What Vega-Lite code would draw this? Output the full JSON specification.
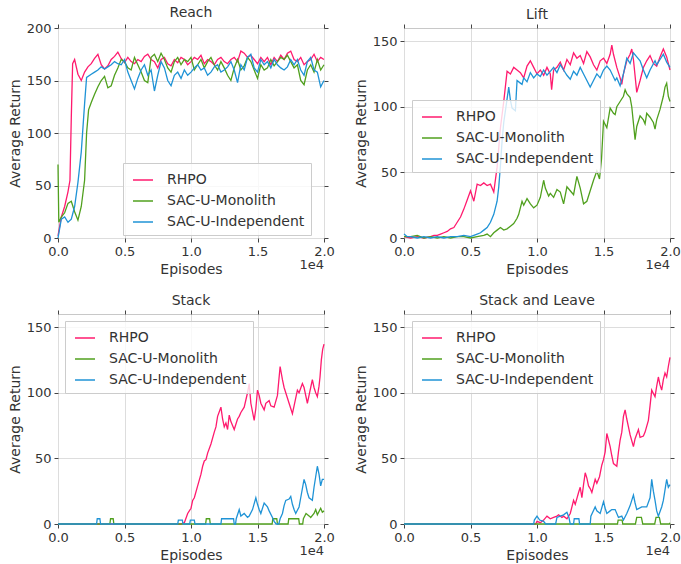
{
"$schema": "https://vega.github.io/schema/vega-lite/v6.json",
"background": "white",
"padding": {"left": 7, "top": 5, "right": 3, "bottom": 2},
"config": {
  "font": "DejaVu Sans",
  "view": {"stroke": "#c8c8c8", "strokeWidth": 1},
  "axis": {"grid": true, "gridColor": "#dddddd", "gridWidth": 1, "domain": false, "tickColor": "#444444", "tickSize": 4, "labelPadding": 3, "labelFontSize": 13, "titleFontSize": 14, "labelColor": "#333333", "titleColor": "#333333", "titleFontWeight": "normal", "titlePadding": 4, "labelFlush": false},
  "title": {"fontSize": 14, "fontWeight": "normal", "color": "#333333", "offset": 2},
  "legend": {"orient": "none", "title": null, "labelFontSize": 14, "labelColor": "#333333", "symbolType": "stroke", "symbolSize": 400, "symbolStrokeWidth": 1.5, "fillColor": "rgba(255,255,255,0.8)", "strokeColor": "#cccccc", "padding": 6, "rowPadding": 3, "labelOffset": 13, "symbolOffset": 3}
},
"datasets": {
"reach": [
{"s":"RHPO","x":0,"y":2},{"s":"RHPO","x":250,"y":20},{"s":"RHPO","x":500,"y":30},{"s":"RHPO","x":750,"y":44},{"s":"RHPO","x":900,"y":55},{"s":"RHPO","x":1000,"y":115},{"s":"RHPO","x":1100,"y":166},{"s":"RHPO","x":1250,"y":170},{"s":"RHPO","x":1500,"y":156},{"s":"RHPO","x":1750,"y":150},{"s":"RHPO","x":2000,"y":158},{"s":"RHPO","x":2250,"y":163},{"s":"RHPO","x":2500,"y":166},{"s":"RHPO","x":2750,"y":171},{"s":"RHPO","x":3000,"y":175},{"s":"RHPO","x":3250,"y":165},{"s":"RHPO","x":3500,"y":161},{"s":"RHPO","x":3750,"y":164},{"s":"RHPO","x":4000,"y":170},{"s":"RHPO","x":4250,"y":173},{"s":"RHPO","x":4500,"y":177},{"s":"RHPO","x":4750,"y":171},{"s":"RHPO","x":5000,"y":167},{"s":"RHPO","x":5250,"y":172},{"s":"RHPO","x":5500,"y":168},{"s":"RHPO","x":5750,"y":166},{"s":"RHPO","x":6000,"y":170},{"s":"RHPO","x":6250,"y":168},{"s":"RHPO","x":6500,"y":173},{"s":"RHPO","x":6750,"y":175},{"s":"RHPO","x":7000,"y":170},{"s":"RHPO","x":7250,"y":168},{"s":"RHPO","x":7500,"y":162},{"s":"RHPO","x":7750,"y":170},{"s":"RHPO","x":8000,"y":172},{"s":"RHPO","x":8250,"y":166},{"s":"RHPO","x":8500,"y":164},{"s":"RHPO","x":8750,"y":170},{"s":"RHPO","x":9000,"y":167},{"s":"RHPO","x":9250,"y":172},{"s":"RHPO","x":9500,"y":170},{"s":"RHPO","x":9750,"y":165},{"s":"RHPO","x":10000,"y":168},{"s":"RHPO","x":10250,"y":172},{"s":"RHPO","x":10500,"y":170},{"s":"RHPO","x":10750,"y":174},{"s":"RHPO","x":11000,"y":166},{"s":"RHPO","x":11250,"y":170},{"s":"RHPO","x":11500,"y":168},{"s":"RHPO","x":11750,"y":165},{"s":"RHPO","x":12000,"y":170},{"s":"RHPO","x":12250,"y":172},{"s":"RHPO","x":12500,"y":168},{"s":"RHPO","x":12750,"y":166},{"s":"RHPO","x":13000,"y":170},{"s":"RHPO","x":13250,"y":172},{"s":"RHPO","x":13500,"y":168},{"s":"RHPO","x":13750,"y":178},{"s":"RHPO","x":14000,"y":176},{"s":"RHPO","x":14250,"y":172},{"s":"RHPO","x":14500,"y":174},{"s":"RHPO","x":14750,"y":170},{"s":"RHPO","x":15000,"y":166},{"s":"RHPO","x":15250,"y":172},{"s":"RHPO","x":15500,"y":168},{"s":"RHPO","x":15750,"y":172},{"s":"RHPO","x":16000,"y":165},{"s":"RHPO","x":16250,"y":172},{"s":"RHPO","x":16500,"y":168},{"s":"RHPO","x":16750,"y":174},{"s":"RHPO","x":17000,"y":170},{"s":"RHPO","x":17250,"y":176},{"s":"RHPO","x":17500,"y":178},{"s":"RHPO","x":17750,"y":170},{"s":"RHPO","x":18000,"y":168},{"s":"RHPO","x":18250,"y":172},{"s":"RHPO","x":18500,"y":165},{"s":"RHPO","x":18750,"y":168},{"s":"RHPO","x":19000,"y":170},{"s":"RHPO","x":19250,"y":175},{"s":"RHPO","x":19500,"y":168},{"s":"RHPO","x":19750,"y":172},{"s":"RHPO","x":20000,"y":170},
{"s":"SAC-U-Monolith","x":0,"y":70},{"s":"SAC-U-Monolith","x":60,"y":15},{"s":"SAC-U-Monolith","x":250,"y":20},{"s":"SAC-U-Monolith","x":500,"y":24},{"s":"SAC-U-Monolith","x":750,"y":33},{"s":"SAC-U-Monolith","x":1000,"y":35},{"s":"SAC-U-Monolith","x":1250,"y":25},{"s":"SAC-U-Monolith","x":1500,"y":17},{"s":"SAC-U-Monolith","x":1750,"y":30},{"s":"SAC-U-Monolith","x":2000,"y":55},{"s":"SAC-U-Monolith","x":2150,"y":100},{"s":"SAC-U-Monolith","x":2300,"y":122},{"s":"SAC-U-Monolith","x":2500,"y":129},{"s":"SAC-U-Monolith","x":2750,"y":137},{"s":"SAC-U-Monolith","x":3000,"y":144},{"s":"SAC-U-Monolith","x":3250,"y":150},{"s":"SAC-U-Monolith","x":3500,"y":154},{"s":"SAC-U-Monolith","x":3750,"y":143},{"s":"SAC-U-Monolith","x":4000,"y":145},{"s":"SAC-U-Monolith","x":4250,"y":155},{"s":"SAC-U-Monolith","x":4500,"y":162},{"s":"SAC-U-Monolith","x":4750,"y":170},{"s":"SAC-U-Monolith","x":5000,"y":168},{"s":"SAC-U-Monolith","x":5250,"y":162},{"s":"SAC-U-Monolith","x":5500,"y":160},{"s":"SAC-U-Monolith","x":5750,"y":172},{"s":"SAC-U-Monolith","x":6000,"y":165},{"s":"SAC-U-Monolith","x":6250,"y":158},{"s":"SAC-U-Monolith","x":6500,"y":150},{"s":"SAC-U-Monolith","x":6750,"y":148},{"s":"SAC-U-Monolith","x":7000,"y":172},{"s":"SAC-U-Monolith","x":7250,"y":175},{"s":"SAC-U-Monolith","x":7500,"y":168},{"s":"SAC-U-Monolith","x":7750,"y":176},{"s":"SAC-U-Monolith","x":8000,"y":170},{"s":"SAC-U-Monolith","x":8250,"y":162},{"s":"SAC-U-Monolith","x":8500,"y":158},{"s":"SAC-U-Monolith","x":8750,"y":168},{"s":"SAC-U-Monolith","x":9000,"y":172},{"s":"SAC-U-Monolith","x":9250,"y":165},{"s":"SAC-U-Monolith","x":9500,"y":170},{"s":"SAC-U-Monolith","x":9750,"y":168},{"s":"SAC-U-Monolith","x":10000,"y":172},{"s":"SAC-U-Monolith","x":10250,"y":160},{"s":"SAC-U-Monolith","x":10500,"y":165},{"s":"SAC-U-Monolith","x":10750,"y":170},{"s":"SAC-U-Monolith","x":11000,"y":162},{"s":"SAC-U-Monolith","x":11250,"y":168},{"s":"SAC-U-Monolith","x":11500,"y":172},{"s":"SAC-U-Monolith","x":11750,"y":165},{"s":"SAC-U-Monolith","x":12000,"y":160},{"s":"SAC-U-Monolith","x":12250,"y":168},{"s":"SAC-U-Monolith","x":12500,"y":162},{"s":"SAC-U-Monolith","x":12750,"y":155},{"s":"SAC-U-Monolith","x":13000,"y":150},{"s":"SAC-U-Monolith","x":13250,"y":162},{"s":"SAC-U-Monolith","x":13500,"y":170},{"s":"SAC-U-Monolith","x":13750,"y":160},{"s":"SAC-U-Monolith","x":14000,"y":164},{"s":"SAC-U-Monolith","x":14250,"y":172},{"s":"SAC-U-Monolith","x":14500,"y":168},{"s":"SAC-U-Monolith","x":14750,"y":160},{"s":"SAC-U-Monolith","x":15000,"y":152},{"s":"SAC-U-Monolith","x":15250,"y":165},{"s":"SAC-U-Monolith","x":15500,"y":160},{"s":"SAC-U-Monolith","x":15750,"y":162},{"s":"SAC-U-Monolith","x":16000,"y":170},{"s":"SAC-U-Monolith","x":16250,"y":164},{"s":"SAC-U-Monolith","x":16500,"y":168},{"s":"SAC-U-Monolith","x":16750,"y":172},{"s":"SAC-U-Monolith","x":17000,"y":170},{"s":"SAC-U-Monolith","x":17250,"y":174},{"s":"SAC-U-Monolith","x":17500,"y":168},{"s":"SAC-U-Monolith","x":17750,"y":162},{"s":"SAC-U-Monolith","x":18000,"y":165},{"s":"SAC-U-Monolith","x":18250,"y":150},{"s":"SAC-U-Monolith","x":18500,"y":146},{"s":"SAC-U-Monolith","x":18750,"y":160},{"s":"SAC-U-Monolith","x":19000,"y":165},{"s":"SAC-U-Monolith","x":19250,"y":158},{"s":"SAC-U-Monolith","x":19500,"y":170},{"s":"SAC-U-Monolith","x":19750,"y":160},{"s":"SAC-U-Monolith","x":20000,"y":165},
{"s":"SAC-U-Independent","x":0,"y":0},{"s":"SAC-U-Independent","x":250,"y":18},{"s":"SAC-U-Independent","x":500,"y":20},{"s":"SAC-U-Independent","x":750,"y":15},{"s":"SAC-U-Independent","x":1000,"y":18},{"s":"SAC-U-Independent","x":1250,"y":30},{"s":"SAC-U-Independent","x":1500,"y":53},{"s":"SAC-U-Independent","x":1750,"y":82},{"s":"SAC-U-Independent","x":2000,"y":128},{"s":"SAC-U-Independent","x":2150,"y":153},{"s":"SAC-U-Independent","x":2500,"y":156},{"s":"SAC-U-Independent","x":2750,"y":158},{"s":"SAC-U-Independent","x":3000,"y":160},{"s":"SAC-U-Independent","x":3250,"y":163},{"s":"SAC-U-Independent","x":3500,"y":161},{"s":"SAC-U-Independent","x":3750,"y":163},{"s":"SAC-U-Independent","x":4000,"y":165},{"s":"SAC-U-Independent","x":4250,"y":168},{"s":"SAC-U-Independent","x":4500,"y":166},{"s":"SAC-U-Independent","x":4750,"y":165},{"s":"SAC-U-Independent","x":5000,"y":170},{"s":"SAC-U-Independent","x":5250,"y":158},{"s":"SAC-U-Independent","x":5500,"y":150},{"s":"SAC-U-Independent","x":5750,"y":142},{"s":"SAC-U-Independent","x":6000,"y":152},{"s":"SAC-U-Independent","x":6250,"y":160},{"s":"SAC-U-Independent","x":6500,"y":165},{"s":"SAC-U-Independent","x":6750,"y":155},{"s":"SAC-U-Independent","x":7000,"y":160},{"s":"SAC-U-Independent","x":7250,"y":140},{"s":"SAC-U-Independent","x":7500,"y":155},{"s":"SAC-U-Independent","x":7750,"y":168},{"s":"SAC-U-Independent","x":8000,"y":162},{"s":"SAC-U-Independent","x":8250,"y":150},{"s":"SAC-U-Independent","x":8500,"y":145},{"s":"SAC-U-Independent","x":8750,"y":155},{"s":"SAC-U-Independent","x":9000,"y":158},{"s":"SAC-U-Independent","x":9250,"y":152},{"s":"SAC-U-Independent","x":9500,"y":160},{"s":"SAC-U-Independent","x":9750,"y":155},{"s":"SAC-U-Independent","x":10000,"y":158},{"s":"SAC-U-Independent","x":10250,"y":162},{"s":"SAC-U-Independent","x":10500,"y":165},{"s":"SAC-U-Independent","x":10750,"y":160},{"s":"SAC-U-Independent","x":11000,"y":162},{"s":"SAC-U-Independent","x":11250,"y":155},{"s":"SAC-U-Independent","x":11500,"y":158},{"s":"SAC-U-Independent","x":11750,"y":163},{"s":"SAC-U-Independent","x":12000,"y":165},{"s":"SAC-U-Independent","x":12250,"y":158},{"s":"SAC-U-Independent","x":12500,"y":160},{"s":"SAC-U-Independent","x":12750,"y":163},{"s":"SAC-U-Independent","x":13000,"y":168},{"s":"SAC-U-Independent","x":13250,"y":160},{"s":"SAC-U-Independent","x":13500,"y":148},{"s":"SAC-U-Independent","x":13750,"y":165},{"s":"SAC-U-Independent","x":14000,"y":160},{"s":"SAC-U-Independent","x":14250,"y":172},{"s":"SAC-U-Independent","x":14500,"y":175},{"s":"SAC-U-Independent","x":14750,"y":162},{"s":"SAC-U-Independent","x":15000,"y":158},{"s":"SAC-U-Independent","x":15250,"y":170},{"s":"SAC-U-Independent","x":15500,"y":165},{"s":"SAC-U-Independent","x":15750,"y":168},{"s":"SAC-U-Independent","x":16000,"y":162},{"s":"SAC-U-Independent","x":16250,"y":170},{"s":"SAC-U-Independent","x":16500,"y":165},{"s":"SAC-U-Independent","x":16750,"y":162},{"s":"SAC-U-Independent","x":17000,"y":160},{"s":"SAC-U-Independent","x":17250,"y":163},{"s":"SAC-U-Independent","x":17500,"y":170},{"s":"SAC-U-Independent","x":17750,"y":165},{"s":"SAC-U-Independent","x":18000,"y":170},{"s":"SAC-U-Independent","x":18250,"y":160},{"s":"SAC-U-Independent","x":18500,"y":155},{"s":"SAC-U-Independent","x":18750,"y":168},{"s":"SAC-U-Independent","x":19000,"y":172},{"s":"SAC-U-Independent","x":19250,"y":160},{"s":"SAC-U-Independent","x":19500,"y":158},{"s":"SAC-U-Independent","x":19750,"y":144},{"s":"SAC-U-Independent","x":20000,"y":150}
],
"lift": [
{"s":"RHPO","x":0,"y":1},{"s":"RHPO","x":500,"y":0},{"s":"RHPO","x":1000,"y":1},{"s":"RHPO","x":1500,"y":0},{"s":"RHPO","x":2000,"y":1},{"s":"RHPO","x":2250,"y":2},{"s":"RHPO","x":2500,"y":2},{"s":"RHPO","x":2750,"y":3},{"s":"RHPO","x":3000,"y":4},{"s":"RHPO","x":3250,"y":5},{"s":"RHPO","x":3500,"y":7},{"s":"RHPO","x":3750,"y":8},{"s":"RHPO","x":4000,"y":12},{"s":"RHPO","x":4250,"y":16},{"s":"RHPO","x":4500,"y":22},{"s":"RHPO","x":4750,"y":29},{"s":"RHPO","x":5000,"y":36},{"s":"RHPO","x":5250,"y":28},{"s":"RHPO","x":5500,"y":41},{"s":"RHPO","x":5750,"y":40},{"s":"RHPO","x":6000,"y":42},{"s":"RHPO","x":6250,"y":40},{"s":"RHPO","x":6500,"y":41},{"s":"RHPO","x":6750,"y":35},{"s":"RHPO","x":7000,"y":54},{"s":"RHPO","x":7250,"y":84},{"s":"RHPO","x":7500,"y":104},{"s":"RHPO","x":7750,"y":127},{"s":"RHPO","x":8000,"y":125},{"s":"RHPO","x":8250,"y":130},{"s":"RHPO","x":8500,"y":128},{"s":"RHPO","x":8750,"y":126},{"s":"RHPO","x":9000,"y":122},{"s":"RHPO","x":9250,"y":131},{"s":"RHPO","x":9500,"y":135},{"s":"RHPO","x":9750,"y":130},{"s":"RHPO","x":10000,"y":125},{"s":"RHPO","x":10250,"y":128},{"s":"RHPO","x":10500,"y":124},{"s":"RHPO","x":10750,"y":130},{"s":"RHPO","x":11000,"y":125},{"s":"RHPO","x":11100,"y":113},{"s":"RHPO","x":11250,"y":128},{"s":"RHPO","x":11500,"y":130},{"s":"RHPO","x":11750,"y":134},{"s":"RHPO","x":12000,"y":128},{"s":"RHPO","x":12250,"y":136},{"s":"RHPO","x":12500,"y":132},{"s":"RHPO","x":12750,"y":141},{"s":"RHPO","x":13000,"y":137},{"s":"RHPO","x":13250,"y":139},{"s":"RHPO","x":13500,"y":133},{"s":"RHPO","x":13750,"y":142},{"s":"RHPO","x":14000,"y":138},{"s":"RHPO","x":14250,"y":132},{"s":"RHPO","x":14500,"y":128},{"s":"RHPO","x":14750,"y":135},{"s":"RHPO","x":15000,"y":137},{"s":"RHPO","x":15250,"y":133},{"s":"RHPO","x":15500,"y":140},{"s":"RHPO","x":15625,"y":147},{"s":"RHPO","x":15750,"y":140},{"s":"RHPO","x":16000,"y":130},{"s":"RHPO","x":16250,"y":122},{"s":"RHPO","x":16375,"y":117},{"s":"RHPO","x":16500,"y":125},{"s":"RHPO","x":16750,"y":135},{"s":"RHPO","x":17000,"y":140},{"s":"RHPO","x":17125,"y":144},{"s":"RHPO","x":17250,"y":136},{"s":"RHPO","x":17500,"y":111},{"s":"RHPO","x":17750,"y":120},{"s":"RHPO","x":18000,"y":130},{"s":"RHPO","x":18250,"y":135},{"s":"RHPO","x":18500,"y":139},{"s":"RHPO","x":18750,"y":133},{"s":"RHPO","x":19000,"y":131},{"s":"RHPO","x":19250,"y":138},{"s":"RHPO","x":19500,"y":144},{"s":"RHPO","x":19750,"y":138},{"s":"RHPO","x":20000,"y":128},
{"s":"SAC-U-Monolith","x":0,"y":1},{"s":"SAC-U-Monolith","x":500,"y":1},{"s":"SAC-U-Monolith","x":1000,"y":2},{"s":"SAC-U-Monolith","x":1500,"y":0},{"s":"SAC-U-Monolith","x":2000,"y":1},{"s":"SAC-U-Monolith","x":2500,"y":0},{"s":"SAC-U-Monolith","x":3000,"y":1},{"s":"SAC-U-Monolith","x":3500,"y":0},{"s":"SAC-U-Monolith","x":4000,"y":1},{"s":"SAC-U-Monolith","x":4500,"y":1},{"s":"SAC-U-Monolith","x":5000,"y":0},{"s":"SAC-U-Monolith","x":5500,"y":1},{"s":"SAC-U-Monolith","x":6000,"y":2},{"s":"SAC-U-Monolith","x":6250,"y":3},{"s":"SAC-U-Monolith","x":6500,"y":1},{"s":"SAC-U-Monolith","x":6750,"y":4},{"s":"SAC-U-Monolith","x":7000,"y":6},{"s":"SAC-U-Monolith","x":7250,"y":8},{"s":"SAC-U-Monolith","x":7500,"y":6},{"s":"SAC-U-Monolith","x":7750,"y":7},{"s":"SAC-U-Monolith","x":8000,"y":9},{"s":"SAC-U-Monolith","x":8250,"y":11},{"s":"SAC-U-Monolith","x":8500,"y":15},{"s":"SAC-U-Monolith","x":8625,"y":18},{"s":"SAC-U-Monolith","x":8875,"y":28},{"s":"SAC-U-Monolith","x":9000,"y":25},{"s":"SAC-U-Monolith","x":9250,"y":30},{"s":"SAC-U-Monolith","x":9500,"y":26},{"s":"SAC-U-Monolith","x":9750,"y":23},{"s":"SAC-U-Monolith","x":10000,"y":25},{"s":"SAC-U-Monolith","x":10250,"y":31},{"s":"SAC-U-Monolith","x":10500,"y":44},{"s":"SAC-U-Monolith","x":10625,"y":38},{"s":"SAC-U-Monolith","x":10875,"y":32},{"s":"SAC-U-Monolith","x":11000,"y":34},{"s":"SAC-U-Monolith","x":11250,"y":31},{"s":"SAC-U-Monolith","x":11500,"y":37},{"s":"SAC-U-Monolith","x":11750,"y":35},{"s":"SAC-U-Monolith","x":12000,"y":26},{"s":"SAC-U-Monolith","x":12250,"y":39},{"s":"SAC-U-Monolith","x":12500,"y":36},{"s":"SAC-U-Monolith","x":12750,"y":33},{"s":"SAC-U-Monolith","x":13000,"y":47},{"s":"SAC-U-Monolith","x":13250,"y":38},{"s":"SAC-U-Monolith","x":13500,"y":26},{"s":"SAC-U-Monolith","x":13750,"y":28},{"s":"SAC-U-Monolith","x":14000,"y":36},{"s":"SAC-U-Monolith","x":14250,"y":44},{"s":"SAC-U-Monolith","x":14500,"y":51},{"s":"SAC-U-Monolith","x":14700,"y":45},{"s":"SAC-U-Monolith","x":14850,"y":60},{"s":"SAC-U-Monolith","x":15000,"y":89},{"s":"SAC-U-Monolith","x":15250,"y":84},{"s":"SAC-U-Monolith","x":15500,"y":99},{"s":"SAC-U-Monolith","x":15750,"y":95},{"s":"SAC-U-Monolith","x":15875,"y":94},{"s":"SAC-U-Monolith","x":16000,"y":100},{"s":"SAC-U-Monolith","x":16250,"y":104},{"s":"SAC-U-Monolith","x":16500,"y":108},{"s":"SAC-U-Monolith","x":16625,"y":113},{"s":"SAC-U-Monolith","x":16750,"y":110},{"s":"SAC-U-Monolith","x":17000,"y":107},{"s":"SAC-U-Monolith","x":17125,"y":100},{"s":"SAC-U-Monolith","x":17375,"y":75},{"s":"SAC-U-Monolith","x":17500,"y":85},{"s":"SAC-U-Monolith","x":17750,"y":93},{"s":"SAC-U-Monolith","x":18000,"y":90},{"s":"SAC-U-Monolith","x":18125,"y":87},{"s":"SAC-U-Monolith","x":18250,"y":95},{"s":"SAC-U-Monolith","x":18500,"y":92},{"s":"SAC-U-Monolith","x":18750,"y":88},{"s":"SAC-U-Monolith","x":18875,"y":83},{"s":"SAC-U-Monolith","x":19000,"y":90},{"s":"SAC-U-Monolith","x":19250,"y":98},{"s":"SAC-U-Monolith","x":19500,"y":108},{"s":"SAC-U-Monolith","x":19625,"y":115},{"s":"SAC-U-Monolith","x":19750,"y":118},{"s":"SAC-U-Monolith","x":19875,"y":108},{"s":"SAC-U-Monolith","x":20000,"y":104},
{"s":"SAC-U-Independent","x":0,"y":3},{"s":"SAC-U-Independent","x":250,"y":1},{"s":"SAC-U-Independent","x":500,"y":1},{"s":"SAC-U-Independent","x":1000,"y":0},{"s":"SAC-U-Independent","x":1500,"y":1},{"s":"SAC-U-Independent","x":2000,"y":0},{"s":"SAC-U-Independent","x":2500,"y":1},{"s":"SAC-U-Independent","x":3000,"y":0},{"s":"SAC-U-Independent","x":3500,"y":1},{"s":"SAC-U-Independent","x":4000,"y":1},{"s":"SAC-U-Independent","x":4500,"y":2},{"s":"SAC-U-Independent","x":5000,"y":1},{"s":"SAC-U-Independent","x":5250,"y":2},{"s":"SAC-U-Independent","x":5500,"y":3},{"s":"SAC-U-Independent","x":5750,"y":4},{"s":"SAC-U-Independent","x":6000,"y":6},{"s":"SAC-U-Independent","x":6250,"y":8},{"s":"SAC-U-Independent","x":6500,"y":12},{"s":"SAC-U-Independent","x":6750,"y":18},{"s":"SAC-U-Independent","x":7000,"y":28},{"s":"SAC-U-Independent","x":7125,"y":39},{"s":"SAC-U-Independent","x":7250,"y":55},{"s":"SAC-U-Independent","x":7375,"y":74},{"s":"SAC-U-Independent","x":7500,"y":88},{"s":"SAC-U-Independent","x":7625,"y":97},{"s":"SAC-U-Independent","x":7875,"y":115},{"s":"SAC-U-Independent","x":8000,"y":105},{"s":"SAC-U-Independent","x":8125,"y":99},{"s":"SAC-U-Independent","x":8375,"y":97},{"s":"SAC-U-Independent","x":8500,"y":120},{"s":"SAC-U-Independent","x":8750,"y":118},{"s":"SAC-U-Independent","x":8875,"y":117},{"s":"SAC-U-Independent","x":9000,"y":122},{"s":"SAC-U-Independent","x":9250,"y":119},{"s":"SAC-U-Independent","x":9500,"y":126},{"s":"SAC-U-Independent","x":9750,"y":122},{"s":"SAC-U-Independent","x":10000,"y":125},{"s":"SAC-U-Independent","x":10250,"y":123},{"s":"SAC-U-Independent","x":10500,"y":128},{"s":"SAC-U-Independent","x":10750,"y":124},{"s":"SAC-U-Independent","x":11000,"y":127},{"s":"SAC-U-Independent","x":11250,"y":130},{"s":"SAC-U-Independent","x":11500,"y":126},{"s":"SAC-U-Independent","x":11750,"y":132},{"s":"SAC-U-Independent","x":12000,"y":128},{"s":"SAC-U-Independent","x":12250,"y":124},{"s":"SAC-U-Independent","x":12500,"y":121},{"s":"SAC-U-Independent","x":12750,"y":127},{"s":"SAC-U-Independent","x":13000,"y":124},{"s":"SAC-U-Independent","x":13250,"y":130},{"s":"SAC-U-Independent","x":13500,"y":125},{"s":"SAC-U-Independent","x":13750,"y":120},{"s":"SAC-U-Independent","x":14000,"y":115},{"s":"SAC-U-Independent","x":14250,"y":120},{"s":"SAC-U-Independent","x":14500,"y":125},{"s":"SAC-U-Independent","x":14750,"y":122},{"s":"SAC-U-Independent","x":15000,"y":128},{"s":"SAC-U-Independent","x":15250,"y":131},{"s":"SAC-U-Independent","x":15500,"y":128},{"s":"SAC-U-Independent","x":15875,"y":120},{"s":"SAC-U-Independent","x":16000,"y":122},{"s":"SAC-U-Independent","x":16250,"y":116},{"s":"SAC-U-Independent","x":16500,"y":125},{"s":"SAC-U-Independent","x":16750,"y":137},{"s":"SAC-U-Independent","x":17000,"y":133},{"s":"SAC-U-Independent","x":17250,"y":141},{"s":"SAC-U-Independent","x":17500,"y":138},{"s":"SAC-U-Independent","x":17750,"y":135},{"s":"SAC-U-Independent","x":18000,"y":128},{"s":"SAC-U-Independent","x":18250,"y":122},{"s":"SAC-U-Independent","x":18500,"y":128},{"s":"SAC-U-Independent","x":18875,"y":135},{"s":"SAC-U-Independent","x":19000,"y":132},{"s":"SAC-U-Independent","x":19250,"y":136},{"s":"SAC-U-Independent","x":19500,"y":140},{"s":"SAC-U-Independent","x":19750,"y":134},{"s":"SAC-U-Independent","x":20000,"y":130}
],
"stack": [
{"s":"RHPO","x":0,"y":0},{"s":"RHPO","x":9250,"y":0},{"s":"RHPO","x":9500,"y":1},{"s":"RHPO","x":9750,"y":8},{"s":"RHPO","x":10000,"y":12},{"s":"RHPO","x":10125,"y":18},{"s":"RHPO","x":10250,"y":20},{"s":"RHPO","x":10500,"y":29},{"s":"RHPO","x":10750,"y":38},{"s":"RHPO","x":10875,"y":44},{"s":"RHPO","x":11000,"y":48},{"s":"RHPO","x":11125,"y":49},{"s":"RHPO","x":11250,"y":54},{"s":"RHPO","x":11500,"y":61},{"s":"RHPO","x":11750,"y":70},{"s":"RHPO","x":11875,"y":74},{"s":"RHPO","x":12000,"y":82},{"s":"RHPO","x":12250,"y":89},{"s":"RHPO","x":12375,"y":80},{"s":"RHPO","x":12500,"y":74},{"s":"RHPO","x":12625,"y":77},{"s":"RHPO","x":12750,"y":72},{"s":"RHPO","x":12875,"y":83},{"s":"RHPO","x":13000,"y":78},{"s":"RHPO","x":13250,"y":72},{"s":"RHPO","x":13375,"y":76},{"s":"RHPO","x":13500,"y":80},{"s":"RHPO","x":13625,"y":82},{"s":"RHPO","x":13750,"y":85},{"s":"RHPO","x":14000,"y":89},{"s":"RHPO","x":14250,"y":100},{"s":"RHPO","x":14375,"y":107},{"s":"RHPO","x":14500,"y":92},{"s":"RHPO","x":14750,"y":79},{"s":"RHPO","x":14875,"y":88},{"s":"RHPO","x":15000,"y":102},{"s":"RHPO","x":15125,"y":98},{"s":"RHPO","x":15250,"y":92},{"s":"RHPO","x":15500,"y":87},{"s":"RHPO","x":15625,"y":92},{"s":"RHPO","x":15875,"y":94},{"s":"RHPO","x":16000,"y":90},{"s":"RHPO","x":16250,"y":89},{"s":"RHPO","x":16500,"y":98},{"s":"RHPO","x":16700,"y":120},{"s":"RHPO","x":16875,"y":110},{"s":"RHPO","x":17000,"y":104},{"s":"RHPO","x":17250,"y":96},{"s":"RHPO","x":17375,"y":92},{"s":"RHPO","x":17625,"y":84},{"s":"RHPO","x":17750,"y":90},{"s":"RHPO","x":18000,"y":102},{"s":"RHPO","x":18125,"y":100},{"s":"RHPO","x":18375,"y":107},{"s":"RHPO","x":18500,"y":104},{"s":"RHPO","x":18750,"y":92},{"s":"RHPO","x":18875,"y":98},{"s":"RHPO","x":19000,"y":104},{"s":"RHPO","x":19125,"y":110},{"s":"RHPO","x":19250,"y":104},{"s":"RHPO","x":19375,"y":100},{"s":"RHPO","x":19500,"y":97},{"s":"RHPO","x":19625,"y":105},{"s":"RHPO","x":19700,"y":112},{"s":"RHPO","x":19800,"y":125},{"s":"RHPO","x":19900,"y":133},{"s":"RHPO","x":20000,"y":137},
{"s":"SAC-U-Monolith","x":0,"y":0},{"s":"SAC-U-Monolith","x":3900,"y":0},{"s":"SAC-U-Monolith","x":3950,"y":4},{"s":"SAC-U-Monolith","x":4150,"y":4},{"s":"SAC-U-Monolith","x":4200,"y":0},{"s":"SAC-U-Monolith","x":11100,"y":0},{"s":"SAC-U-Monolith","x":11150,"y":4},{"s":"SAC-U-Monolith","x":11400,"y":4},{"s":"SAC-U-Monolith","x":11450,"y":0},{"s":"SAC-U-Monolith","x":16100,"y":0},{"s":"SAC-U-Monolith","x":16150,"y":4},{"s":"SAC-U-Monolith","x":16450,"y":4},{"s":"SAC-U-Monolith","x":16500,"y":0},{"s":"SAC-U-Monolith","x":17300,"y":0},{"s":"SAC-U-Monolith","x":17350,"y":4},{"s":"SAC-U-Monolith","x":18100,"y":4},{"s":"SAC-U-Monolith","x":18150,"y":0},{"s":"SAC-U-Monolith","x":18400,"y":0},{"s":"SAC-U-Monolith","x":18450,"y":4},{"s":"SAC-U-Monolith","x":18650,"y":8},{"s":"SAC-U-Monolith","x":18900,"y":6},{"s":"SAC-U-Monolith","x":19000,"y":5},{"s":"SAC-U-Monolith","x":19250,"y":8},{"s":"SAC-U-Monolith","x":19375,"y":11},{"s":"SAC-U-Monolith","x":19500,"y":7},{"s":"SAC-U-Monolith","x":19750,"y":12},{"s":"SAC-U-Monolith","x":19875,"y":9},{"s":"SAC-U-Monolith","x":20000,"y":10},
{"s":"SAC-U-Independent","x":0,"y":0},{"s":"SAC-U-Independent","x":2900,"y":0},{"s":"SAC-U-Independent","x":2950,"y":4},{"s":"SAC-U-Independent","x":3150,"y":4},{"s":"SAC-U-Independent","x":3200,"y":0},{"s":"SAC-U-Independent","x":9000,"y":0},{"s":"SAC-U-Independent","x":9050,"y":3},{"s":"SAC-U-Independent","x":9350,"y":3},{"s":"SAC-U-Independent","x":9400,"y":0},{"s":"SAC-U-Independent","x":9900,"y":0},{"s":"SAC-U-Independent","x":9950,"y":3},{"s":"SAC-U-Independent","x":10250,"y":3},{"s":"SAC-U-Independent","x":10300,"y":0},{"s":"SAC-U-Independent","x":12250,"y":0},{"s":"SAC-U-Independent","x":12300,"y":4},{"s":"SAC-U-Independent","x":13200,"y":4},{"s":"SAC-U-Independent","x":13250,"y":0},{"s":"SAC-U-Independent","x":13350,"y":0},{"s":"SAC-U-Independent","x":13400,"y":4},{"s":"SAC-U-Independent","x":13625,"y":11},{"s":"SAC-U-Independent","x":13750,"y":6},{"s":"SAC-U-Independent","x":14000,"y":8},{"s":"SAC-U-Independent","x":14250,"y":5},{"s":"SAC-U-Independent","x":14375,"y":6},{"s":"SAC-U-Independent","x":14625,"y":11},{"s":"SAC-U-Independent","x":14875,"y":20},{"s":"SAC-U-Independent","x":15000,"y":15},{"s":"SAC-U-Independent","x":15125,"y":11},{"s":"SAC-U-Independent","x":15250,"y":8},{"s":"SAC-U-Independent","x":15500,"y":16},{"s":"SAC-U-Independent","x":15750,"y":13},{"s":"SAC-U-Independent","x":15875,"y":10},{"s":"SAC-U-Independent","x":16125,"y":5},{"s":"SAC-U-Independent","x":16250,"y":2},{"s":"SAC-U-Independent","x":16400,"y":0},{"s":"SAC-U-Independent","x":16600,"y":0},{"s":"SAC-U-Independent","x":16700,"y":4},{"s":"SAC-U-Independent","x":16875,"y":8},{"s":"SAC-U-Independent","x":17000,"y":14},{"s":"SAC-U-Independent","x":17125,"y":18},{"s":"SAC-U-Independent","x":17375,"y":19},{"s":"SAC-U-Independent","x":17500,"y":21},{"s":"SAC-U-Independent","x":17625,"y":15},{"s":"SAC-U-Independent","x":17750,"y":11},{"s":"SAC-U-Independent","x":17875,"y":8},{"s":"SAC-U-Independent","x":18125,"y":13},{"s":"SAC-U-Independent","x":18250,"y":20},{"s":"SAC-U-Independent","x":18500,"y":34},{"s":"SAC-U-Independent","x":18625,"y":30},{"s":"SAC-U-Independent","x":18750,"y":24},{"s":"SAC-U-Independent","x":18875,"y":20},{"s":"SAC-U-Independent","x":19125,"y":18},{"s":"SAC-U-Independent","x":19250,"y":28},{"s":"SAC-U-Independent","x":19375,"y":36},{"s":"SAC-U-Independent","x":19500,"y":44},{"s":"SAC-U-Independent","x":19625,"y":38},{"s":"SAC-U-Independent","x":19750,"y":29},{"s":"SAC-U-Independent","x":19875,"y":34},{"s":"SAC-U-Independent","x":20000,"y":34}
],
"leave": [
{"s":"RHPO","x":0,"y":0},{"s":"RHPO","x":9900,"y":0},{"s":"RHPO","x":10000,"y":2},{"s":"RHPO","x":10250,"y":1},{"s":"RHPO","x":10500,"y":3},{"s":"RHPO","x":10750,"y":6},{"s":"RHPO","x":11000,"y":4},{"s":"RHPO","x":11250,"y":5},{"s":"RHPO","x":11500,"y":6},{"s":"RHPO","x":11625,"y":7},{"s":"RHPO","x":11875,"y":5},{"s":"RHPO","x":12000,"y":6},{"s":"RHPO","x":12250,"y":4},{"s":"RHPO","x":12500,"y":8},{"s":"RHPO","x":12750,"y":18},{"s":"RHPO","x":12875,"y":15},{"s":"RHPO","x":13125,"y":24},{"s":"RHPO","x":13250,"y":28},{"s":"RHPO","x":13375,"y":20},{"s":"RHPO","x":13500,"y":30},{"s":"RHPO","x":13625,"y":39},{"s":"RHPO","x":13750,"y":35},{"s":"RHPO","x":13875,"y":29},{"s":"RHPO","x":14000,"y":27},{"s":"RHPO","x":14125,"y":24},{"s":"RHPO","x":14375,"y":34},{"s":"RHPO","x":14500,"y":31},{"s":"RHPO","x":14700,"y":36},{"s":"RHPO","x":14875,"y":45},{"s":"RHPO","x":15000,"y":49},{"s":"RHPO","x":15125,"y":55},{"s":"RHPO","x":15250,"y":69},{"s":"RHPO","x":15375,"y":64},{"s":"RHPO","x":15500,"y":59},{"s":"RHPO","x":15625,"y":52},{"s":"RHPO","x":15750,"y":46},{"s":"RHPO","x":16000,"y":44},{"s":"RHPO","x":16125,"y":55},{"s":"RHPO","x":16250,"y":64},{"s":"RHPO","x":16375,"y":70},{"s":"RHPO","x":16500,"y":82},{"s":"RHPO","x":16625,"y":87},{"s":"RHPO","x":16750,"y":80},{"s":"RHPO","x":16875,"y":74},{"s":"RHPO","x":17000,"y":68},{"s":"RHPO","x":17250,"y":59},{"s":"RHPO","x":17375,"y":65},{"s":"RHPO","x":17625,"y":72},{"s":"RHPO","x":17750,"y":66},{"s":"RHPO","x":18000,"y":67},{"s":"RHPO","x":18125,"y":70},{"s":"RHPO","x":18375,"y":79},{"s":"RHPO","x":18500,"y":90},{"s":"RHPO","x":18625,"y":102},{"s":"RHPO","x":18875,"y":97},{"s":"RHPO","x":19000,"y":105},{"s":"RHPO","x":19125,"y":112},{"s":"RHPO","x":19250,"y":106},{"s":"RHPO","x":19375,"y":102},{"s":"RHPO","x":19500,"y":110},{"s":"RHPO","x":19625,"y":115},{"s":"RHPO","x":19750,"y":112},{"s":"RHPO","x":19875,"y":120},{"s":"RHPO","x":20000,"y":127},
{"s":"SAC-U-Monolith","x":0,"y":0},{"s":"SAC-U-Monolith","x":16050,"y":0},{"s":"SAC-U-Monolith","x":16100,"y":3},{"s":"SAC-U-Monolith","x":16400,"y":3},{"s":"SAC-U-Monolith","x":16450,"y":0},{"s":"SAC-U-Monolith","x":17400,"y":0},{"s":"SAC-U-Monolith","x":17500,"y":5},{"s":"SAC-U-Monolith","x":17850,"y":5},{"s":"SAC-U-Monolith","x":17950,"y":0},{"s":"SAC-U-Monolith","x":18850,"y":0},{"s":"SAC-U-Monolith","x":18950,"y":5},{"s":"SAC-U-Monolith","x":19200,"y":5},{"s":"SAC-U-Monolith","x":19300,"y":0},{"s":"SAC-U-Monolith","x":19950,"y":0},{"s":"SAC-U-Monolith","x":20000,"y":1},
{"s":"SAC-U-Independent","x":0,"y":0},{"s":"SAC-U-Independent","x":9750,"y":0},{"s":"SAC-U-Independent","x":9800,"y":3},{"s":"SAC-U-Independent","x":10000,"y":6},{"s":"SAC-U-Independent","x":10200,"y":3},{"s":"SAC-U-Independent","x":10500,"y":2},{"s":"SAC-U-Independent","x":10650,"y":0},{"s":"SAC-U-Independent","x":11400,"y":0},{"s":"SAC-U-Independent","x":11500,"y":5},{"s":"SAC-U-Independent","x":11750,"y":6},{"s":"SAC-U-Independent","x":12000,"y":7},{"s":"SAC-U-Independent","x":12250,"y":9},{"s":"SAC-U-Independent","x":12400,"y":5},{"s":"SAC-U-Independent","x":12500,"y":0},{"s":"SAC-U-Independent","x":12750,"y":0},{"s":"SAC-U-Independent","x":12800,"y":4},{"s":"SAC-U-Independent","x":13150,"y":4},{"s":"SAC-U-Independent","x":13200,"y":0},{"s":"SAC-U-Independent","x":14000,"y":0},{"s":"SAC-U-Independent","x":14050,"y":6},{"s":"SAC-U-Independent","x":14375,"y":13},{"s":"SAC-U-Independent","x":14500,"y":10},{"s":"SAC-U-Independent","x":14750,"y":8},{"s":"SAC-U-Independent","x":15000,"y":17},{"s":"SAC-U-Independent","x":15125,"y":12},{"s":"SAC-U-Independent","x":15250,"y":8},{"s":"SAC-U-Independent","x":15500,"y":10},{"s":"SAC-U-Independent","x":15625,"y":11},{"s":"SAC-U-Independent","x":15875,"y":11},{"s":"SAC-U-Independent","x":16125,"y":5},{"s":"SAC-U-Independent","x":16375,"y":6},{"s":"SAC-U-Independent","x":16500,"y":3},{"s":"SAC-U-Independent","x":16750,"y":8},{"s":"SAC-U-Independent","x":17000,"y":14},{"s":"SAC-U-Independent","x":17250,"y":22},{"s":"SAC-U-Independent","x":17375,"y":16},{"s":"SAC-U-Independent","x":17500,"y":11},{"s":"SAC-U-Independent","x":17875,"y":13},{"s":"SAC-U-Independent","x":18250,"y":13},{"s":"SAC-U-Independent","x":18500,"y":20},{"s":"SAC-U-Independent","x":18625,"y":34},{"s":"SAC-U-Independent","x":18750,"y":25},{"s":"SAC-U-Independent","x":18875,"y":18},{"s":"SAC-U-Independent","x":19000,"y":10},{"s":"SAC-U-Independent","x":19125,"y":6},{"s":"SAC-U-Independent","x":19375,"y":13},{"s":"SAC-U-Independent","x":19500,"y":18},{"s":"SAC-U-Independent","x":19750,"y":34},{"s":"SAC-U-Independent","x":19875,"y":28},{"s":"SAC-U-Independent","x":20000,"y":30}
]
},
"columns": 2,
"spacing": {"row": 16, "column": 18},
"resolve": {"scale": {"color": "independent"}, "legend": {"color": "independent"}},
"concat": [
{
 "title": "Reach", "width": 266, "height": 210,
 "layer": [
  {"data": {"name": "reach"}, "mark": {"type": "line", "strokeWidth": 1.3},
   "encoding": {
    "x": {"field": "x", "type": "quantitative", "scale": {"domain": [0, 20000]}, "axis": {"values": [0, 5000, 10000, 15000, 20000], "labelExpr": "format(datum.value/10000,'.1f')", "title": "Episodes"}},
    "y": {"field": "y", "type": "quantitative", "scale": {"domain": [0, 200]}, "axis": {"values": [0, 50, 100, 150, 200], "title": "Average Return"}},
    "color": {"field": "s", "type": "nominal", "scale": {"domain": ["RHPO", "SAC-U-Monolith", "SAC-U-Independent"], "range": ["#ff1a6e", "#50a01e", "#1f93d6"]}, "legend": {"legendX": 65, "legendY": 135}}
   }},
  {"data": {"values": [{"t": "1e4"}]}, "mark": {"type": "text", "align": "right", "baseline": "alphabetic", "dy": 31, "fontSize": 13, "color": "#333333"},
   "encoding": {
    "x": {"datum": 20000, "type": "quantitative", "axis": {"orient": "top", "values": [0, 5000, 10000, 15000, 20000], "labels": false, "title": null, "grid": false}},
    "y": {"datum": 0, "type": "quantitative", "axis": {"orient": "right", "values": [0, 50, 100, 150, 200], "labels": false, "title": null, "grid": false}},
    "text": {"field": "t"}
   }}
 ],
 "resolve": {"axis": {"x": "independent", "y": "independent"}}
},
{
 "title": "Lift", "width": 266, "height": 210,
 "layer": [
  {"data": {"name": "lift"}, "mark": {"type": "line", "strokeWidth": 1.3},
   "encoding": {
    "x": {"field": "x", "type": "quantitative", "scale": {"domain": [0, 20000]}, "axis": {"values": [0, 5000, 10000, 15000, 20000], "labelExpr": "format(datum.value/10000,'.1f')", "title": "Episodes"}},
    "y": {"field": "y", "type": "quantitative", "scale": {"domain": [0, 160]}, "axis": {"values": [0, 50, 100, 150], "title": "Average Return"}},
    "color": {"field": "s", "type": "nominal", "scale": {"domain": ["RHPO", "SAC-U-Monolith", "SAC-U-Independent"], "range": ["#ff1a6e", "#50a01e", "#1f93d6"]}, "legend": {"legendX": 8, "legendY": 72}}
   }},
  {"data": {"values": [{"t": "1e4"}]}, "mark": {"type": "text", "align": "right", "baseline": "alphabetic", "dy": 31, "fontSize": 13, "color": "#333333"},
   "encoding": {
    "x": {"datum": 20000, "type": "quantitative", "axis": {"orient": "top", "values": [0, 5000, 10000, 15000, 20000], "labels": false, "title": null, "grid": false}},
    "y": {"datum": 0, "type": "quantitative", "axis": {"orient": "right", "values": [0, 50, 100, 150], "labels": false, "title": null, "grid": false}},
    "text": {"field": "t"}
   }}
 ],
 "resolve": {"axis": {"x": "independent", "y": "independent"}}
},
{
 "title": "Stack", "width": 266, "height": 210,
 "layer": [
  {"data": {"name": "stack"}, "mark": {"type": "line", "strokeWidth": 1.3},
   "encoding": {
    "x": {"field": "x", "type": "quantitative", "scale": {"domain": [0, 20000]}, "axis": {"values": [0, 5000, 10000, 15000, 20000], "labelExpr": "format(datum.value/10000,'.1f')", "title": "Episodes"}},
    "y": {"field": "y", "type": "quantitative", "scale": {"domain": [0, 160]}, "axis": {"values": [0, 50, 100, 150], "title": "Average Return"}},
    "color": {"field": "s", "type": "nominal", "scale": {"domain": ["RHPO", "SAC-U-Monolith", "SAC-U-Independent"], "range": ["#ff1a6e", "#50a01e", "#1f93d6"]}, "legend": {"legendX": 7, "legendY": 7}}
   }},
  {"data": {"values": [{"t": "1e4"}]}, "mark": {"type": "text", "align": "right", "baseline": "alphabetic", "dy": 31, "fontSize": 13, "color": "#333333"},
   "encoding": {
    "x": {"datum": 20000, "type": "quantitative", "axis": {"orient": "top", "values": [0, 5000, 10000, 15000, 20000], "labels": false, "title": null, "grid": false}},
    "y": {"datum": 0, "type": "quantitative", "axis": {"orient": "right", "values": [0, 50, 100, 150], "labels": false, "title": null, "grid": false}},
    "text": {"field": "t"}
   }}
 ],
 "resolve": {"axis": {"x": "independent", "y": "independent"}}
},
{
 "title": "Stack and Leave", "width": 266, "height": 210,
 "layer": [
  {"data": {"name": "leave"}, "mark": {"type": "line", "strokeWidth": 1.3},
   "encoding": {
    "x": {"field": "x", "type": "quantitative", "scale": {"domain": [0, 20000]}, "axis": {"values": [0, 5000, 10000, 15000, 20000], "labelExpr": "format(datum.value/10000,'.1f')", "title": "Episodes"}},
    "y": {"field": "y", "type": "quantitative", "scale": {"domain": [0, 160]}, "axis": {"values": [0, 50, 100, 150], "title": "Average Return"}},
    "color": {"field": "s", "type": "nominal", "scale": {"domain": ["RHPO", "SAC-U-Monolith", "SAC-U-Independent"], "range": ["#ff1a6e", "#50a01e", "#1f93d6"]}, "legend": {"legendX": 8, "legendY": 7}}
   }},
  {"data": {"values": [{"t": "1e4"}]}, "mark": {"type": "text", "align": "right", "baseline": "alphabetic", "dy": 31, "fontSize": 13, "color": "#333333"},
   "encoding": {
    "x": {"datum": 20000, "type": "quantitative", "axis": {"orient": "top", "values": [0, 5000, 10000, 15000, 20000], "labels": false, "title": null, "grid": false}},
    "y": {"datum": 0, "type": "quantitative", "axis": {"orient": "right", "values": [0, 50, 100, 150], "labels": false, "title": null, "grid": false}},
    "text": {"field": "t"}
   }}
 ],
 "resolve": {"axis": {"x": "independent", "y": "independent"}}
}
]
}
